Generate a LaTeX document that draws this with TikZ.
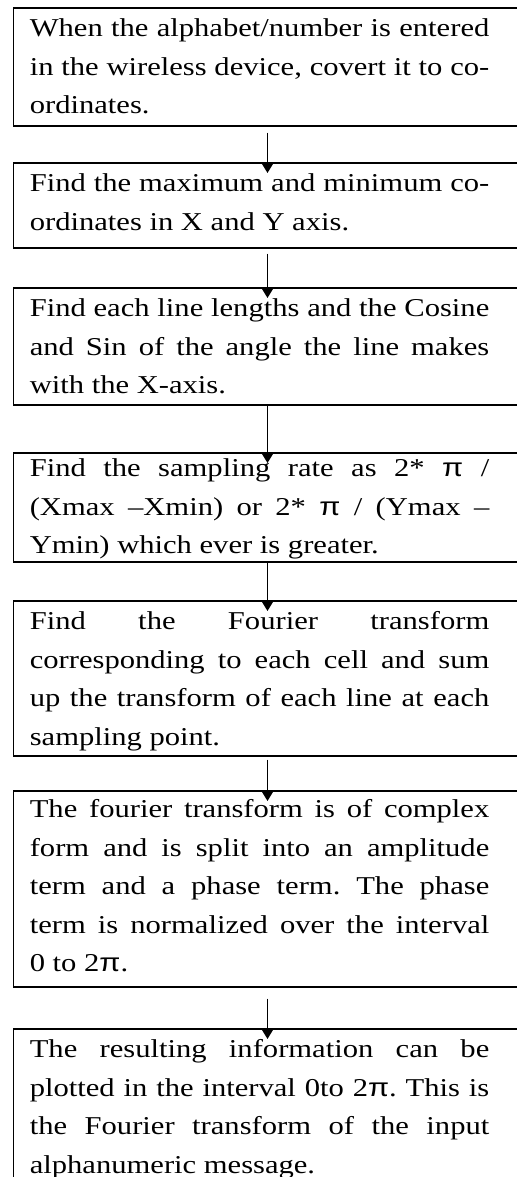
\documentclass[tikz,border=0pt]{standalone}
\usepackage{fontspec}
\setmainfont{Liberation Serif}[FakeStretch=1.19]
\newfontfamily\pifont{Liberation Sans}[FakeStretch=1.19]
\usetikzlibrary{arrows.meta}

\tikzset{
  stepbox/.style={draw, line width=0.8pt, anchor=north west,
    text width=237.7pt, inner xsep=8.15pt, inner ysep=0pt,
    text height=14.5pt, align=justify,
    font=\fontsize{12.85pt}{19.25pt}\selectfont,
    execute at begin node={\rightskip=7.95pt\relax\frenchspacing}},
  flow/.style={-{Triangle[length=5.5pt,width=6.5pt]}, line width=0.8pt,
    shorten >=-5.5pt},
}

\begin{document}
\begin{tikzpicture}[x=0.5pt, y=-0.5pt]
    % 画布大小
    \useasboundingbox (0,0) rectangle (517,1177);
    \def\bx{12.7} % 方框左边

    % 各个步骤
    \node[stepbox, text depth=44.5pt] (b1) at (\bx,7)
      {When the alphabet/number is entered\linebreak in the wireless device, covert it to co-\linebreak ordinates.};
    \node[stepbox, text depth=28pt] (b2) at (\bx,162)
      {Find the maximum and minimum co-\linebreak ordinates in X and Y axis.};
    \node[stepbox, text depth=44pt] (b3) at (\bx,287)
      {Find each line lengths and the Cosine\linebreak and Sin of the angle the line makes\linebreak with the X-axis.};
    \node[stepbox, text height=12pt, text depth=42.5pt] (b4) at (\bx,452)
      {Find the sampling rate as 2* {\pifont π} /\linebreak (Xmax –Xmin) or 2* {\pifont π} / (Ymax –\linebreak Ymin) which ever is greater.};
    \node[stepbox, text depth=63pt] (b5) at (\bx,600)
      {Find the Fourier transform\linebreak corresponding to each cell and sum\linebreak up the transform of each line at each\linebreak sampling point.};
    \node[stepbox, text height=13.5pt, text depth=84.5pt] (b6) at (\bx,790)
      {The fourier transform is of complex\linebreak form and is split into an amplitude\linebreak term and a phase term. The phase\linebreak term is normalized over the interval\linebreak 0 to 2{\pifont π}.};
    \node[stepbox, text depth=66.5pt] (b7) at (\bx,1028)
      {The resulting information can be\linebreak plotted in the interval 0to 2{\pifont π}. This is\linebreak the Fourier transform of the input\linebreak alphanumeric message.};

    % 箭头
    \foreach \a/\b/\s in {b1/b2/3pt, b2/b3/2.5pt, b3/b4/0pt, b4/b5/0pt, b5/b6/1.5pt, b6/b7/5.5pt}
      \draw[flow, shorten <=\s] (\a.south) -- (\b.north);

\end{tikzpicture}
\end{document}
